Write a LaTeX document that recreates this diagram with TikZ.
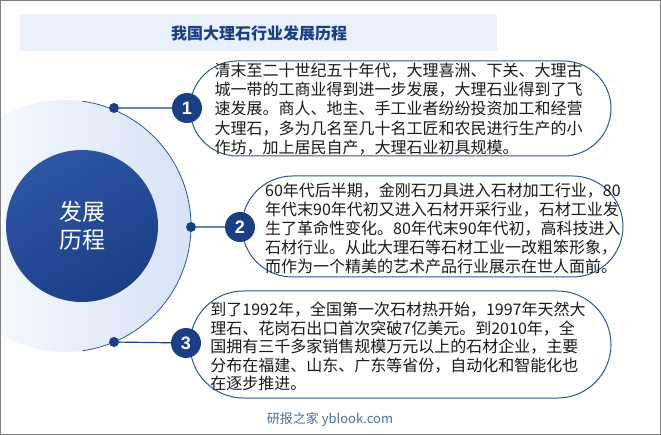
\documentclass[tikz,border=0pt]{standalone}
\usepackage{fontspec}
\newfontfamily\cjk{Noto Sans CJK SC}
\newfontfamily\numfont{Liberation Sans}
\definecolor{navy}{HTML}{1B3F87}
\definecolor{edge}{HTML}{2F5597}
\definecolor{band}{HTML}{EAF1FB}
\definecolor{pale}{HTML}{D6E2F6}
\definecolor{deep}{HTML}{2E56A6}
\definecolor{foot}{HTML}{4F6D95}
\definecolor{ink}{HTML}{1A1A1A}

\begin{document}
\begin{tikzpicture}[x=1pt,y=-1pt,
  dot/.style={circle,fill=navy,inner sep=0pt,minimum size=10pt},
  num/.style={circle,fill=navy,text=white,inner sep=0pt,minimum size=30pt,
    font=\numfont\fontsize{18}{18}\selectfont\bfseries},
  capsule/.style={draw=edge,line width=1pt,fill=white,inner sep=0pt,
    rounded corners=#1,minimum height=2*#1},
  body/.style={align=left,inner sep=0pt,text=ink,font=\cjk\fontsize{16}{19.2}\selectfont},
  link/.style={navy,line width=1.2pt}]
\useasboundingbox (0,0) rectangle (661,435);
% halo round the centre
\shade[left color=white,right color=pale] (65,226) circle[radius=126];
\draw[edge,line width=0.8pt] (65,226) ++(-82:126) arc[start angle=-82,end angle=82,radius=126];
\node[circle,minimum size=152pt,inner sep=0pt,top color=deep,bottom color=navy,shading angle=30,
  text=white,align=center,font=\cjk\fontsize{23}{28}\selectfont] (core) at (82,226) {发展\\历程};
% title
\fill[band] (20,14) rectangle (497,51);
\node[text=navy,font=\cjk\fontsize{16}{16}\selectfont\bfseries] (title) at (259,33) {我国大理石行业发展历程};
% boxes
\node[capsule=47.5pt,minimum width=421pt] (box1) at (400.5,108.5) {};
\node[capsule=50.5pt,minimum width=381pt] (box2) at (432.5,226.5) {};
\node[capsule=53.5pt,minimum width=421pt] (box3) at (400.5,344.5) {};
\node[body] (txt1) at (398.5,109) {清末至二十世纪五十年代，大理喜洲、下关、大理古\\
城一带的工商业得到进一步发展，大理石业得到了飞\\
速发展。商人、地主、手工业者纷纷投资加工和经营\\
大理石，多为几名至几十名工匠和农民进行生产的小\\
作坊，加上居民自产，大理石业初具规模。};
\node[body,anchor=west] (txt2) at (265,228.5) {60年代后半期，金刚石刀具进入石材加工行业，80\\
年代末90年代初又进入石材开采行业，石材工业发\\
生了革命性变化。80年代末90年代初，高科技进入\\
石材行业。从此大理石等石材工业一改粗笨形象，\\
而作为一个精美的艺术产品行业展示在世人面前。};
\node[body,font=\cjk\fontsize{16}{18.4}\selectfont] (txt3) at (398,346.5) {到了1992年，全国第一次石材热开始，1997年天然大\\
理石、花岗石出口首次突破7亿美元。到2010年，全\\
国拥有三千多家销售规模万元以上的石材企业，主要\\
分布在福建、山东、广东等省份，自动化和智能化也\\
在逐步推进。};
% dots and numbers
\node[dot] (d1) at (114,108) {};
\node[dot] (d2) at (191,227) {};
\node[dot] (d3) at (114,342) {};
\node[num] (n1) at (187,108) {1};
\node[num] (n2) at (240,227) {2};
\node[num] (n3) at (186,343) {3};
\draw[link] (d1)--(n1) (d2)--(n2) (d3)--(n3);
% footer and frame
\node[text=foot,font=\cjk\fontsize{13}{13}\selectfont] (src) at (330,420) {研报之家 yblook.com};
\draw[gray,line width=1pt] (0.5,0.5) rectangle (660.5,434.5);
\end{tikzpicture}
\end{document}
